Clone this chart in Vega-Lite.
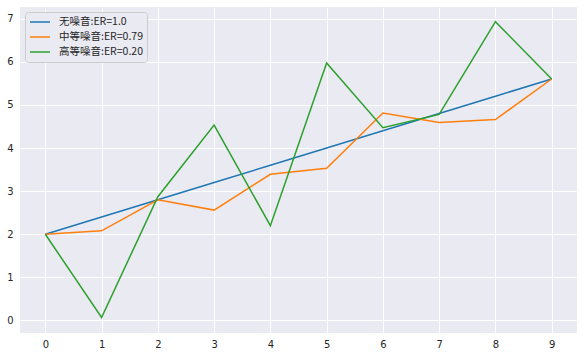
{
  "$schema": "https://vega.github.io/schema/vega-lite/v6.json",
  "width": 557,
  "height": 326,
  "autosize": {"type": "none"},
  "padding": {"left": 20, "top": 7, "right": 7, "bottom": 22},
  "background": "white",
  "config": {
    "view": {"fill": "#eaeaf2", "stroke": null},
    "font": "Noto Sans CJK SC",
    "axis": {
      "domain": false,
      "ticks": false,
      "gridColor": "white",
      "gridWidth": 1,
      "labelColor": "#262626",
      "labelFontSize": 10,
      "labelFont": "DejaVu Sans",
      "title": null
    }
  },
  "data": {
    "values": [
      {"x": 0, "y": 2.0, "s": "无噪音:ER=1.0"},
      {"x": 1, "y": 2.4, "s": "无噪音:ER=1.0"},
      {"x": 2, "y": 2.8, "s": "无噪音:ER=1.0"},
      {"x": 3, "y": 3.2, "s": "无噪音:ER=1.0"},
      {"x": 4, "y": 3.6, "s": "无噪音:ER=1.0"},
      {"x": 5, "y": 4.0, "s": "无噪音:ER=1.0"},
      {"x": 6, "y": 4.4, "s": "无噪音:ER=1.0"},
      {"x": 7, "y": 4.8, "s": "无噪音:ER=1.0"},
      {"x": 8, "y": 5.2, "s": "无噪音:ER=1.0"},
      {"x": 9, "y": 5.6, "s": "无噪音:ER=1.0"},
      {"x": 0, "y": 2.0, "s": "中等噪音:ER=0.79"},
      {"x": 1, "y": 2.08, "s": "中等噪音:ER=0.79"},
      {"x": 2, "y": 2.8, "s": "中等噪音:ER=0.79"},
      {"x": 3, "y": 2.56, "s": "中等噪音:ER=0.79"},
      {"x": 4, "y": 3.39, "s": "中等噪音:ER=0.79"},
      {"x": 5, "y": 3.53, "s": "中等噪音:ER=0.79"},
      {"x": 6, "y": 4.81, "s": "中等噪音:ER=0.79"},
      {"x": 7, "y": 4.59, "s": "中等噪音:ER=0.79"},
      {"x": 8, "y": 4.66, "s": "中等噪音:ER=0.79"},
      {"x": 9, "y": 5.6, "s": "中等噪音:ER=0.79"},
      {"x": 0, "y": 2.0, "s": "高等噪音:ER=0.20"},
      {"x": 1, "y": 0.07, "s": "高等噪音:ER=0.20"},
      {"x": 2, "y": 2.87, "s": "高等噪音:ER=0.20"},
      {"x": 3, "y": 4.53, "s": "高等噪音:ER=0.20"},
      {"x": 4, "y": 2.2, "s": "高等噪音:ER=0.20"},
      {"x": 5, "y": 5.97, "s": "高等噪音:ER=0.20"},
      {"x": 6, "y": 4.47, "s": "高等噪音:ER=0.20"},
      {"x": 7, "y": 4.78, "s": "高等噪音:ER=0.20"},
      {"x": 8, "y": 6.93, "s": "高等噪音:ER=0.20"},
      {"x": 9, "y": 5.6, "s": "高等噪音:ER=0.20"}
    ]
  },
  "mark": {"type": "line", "strokeWidth": 1.5},
  "encoding": {
    "x": {
      "field": "x",
      "type": "quantitative",
      "scale": {"domain": [-0.45, 9.45], "nice": false, "zero": false},
      "axis": {"values": [0, 1, 2, 3, 4, 5, 6, 7, 8, 9], "labelPadding": 6}
    },
    "y": {
      "field": "y",
      "type": "quantitative",
      "scale": {"domain": [-0.29, 7.27], "nice": false, "zero": false},
      "axis": {"values": [0, 1, 2, 3, 4, 5, 6, 7], "labelPadding": 7}
    },
    "color": {
      "field": "s",
      "type": "nominal",
      "scale": {
        "domain": ["无噪音:ER=1.0", "中等噪音:ER=0.79", "高等噪音:ER=0.20"],
        "range": ["#1f77b4", "#ff7f0e", "#2ca02c"]
      },
      "legend": {
        "title": null,
        "orient": "none",
        "legendX": 5,
        "legendY": 5,
        "fillColor": "#eaeaf2",
        "strokeColor": "#cccccc",
        "cornerRadius": 3,
        "padding": 4,
        "symbolType": "stroke",
        "symbolSize": 400,
        "symbolStrokeWidth": 1.5,
        "labelFontSize": 10.5,
        "labelFont": "Noto Sans CJK SC",
        "labelColor": "#262626",
        "labelOffset": 8,
        "clipHeight": 12,
        "rowPadding": 3
      }
    }
  }
}
